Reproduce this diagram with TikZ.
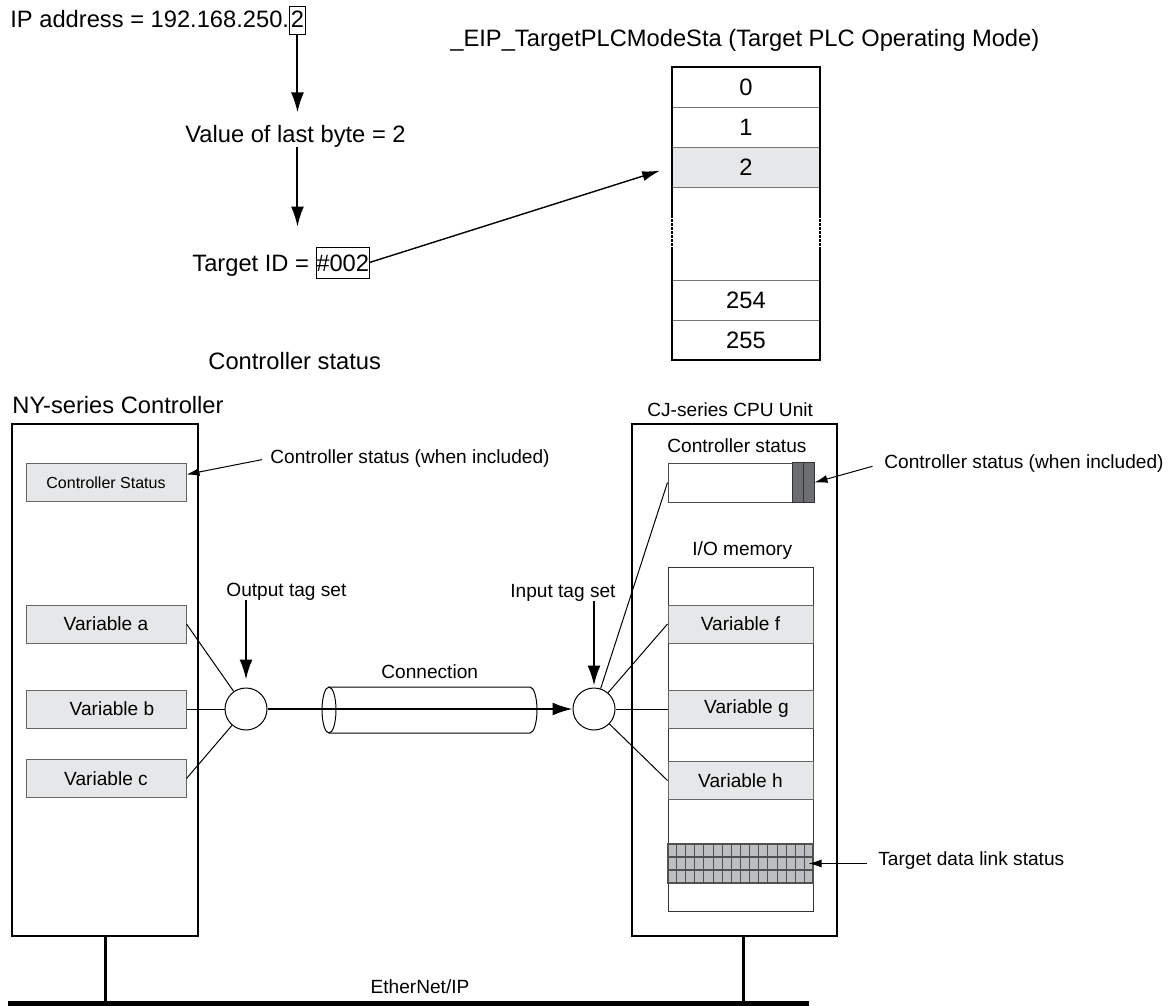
\documentclass[tikz,border=0pt]{standalone}
\usepackage{fontspec}
\setmainfont{Liberation Sans}
\usepackage{tikz}
\usetikzlibrary{positioning, arrows.meta, calc}
\definecolor{cellgray}{RGB}{230,231,232}
\definecolor{markgray}{RGB}{109,110,113}
\definecolor{linkgray}{RGB}{188,190,192}
\definecolor{rulegray}{RGB}{80,81,83}

\begin{document}
\begin{tikzpicture}[
  x=0.5pt, y=-0.5pt,
  big/.style={inner sep=0pt, font=\fontsize{11.85}{14}\selectfont},
  mid/.style={inner sep=0pt, font=\fontsize{9.55}{11.5}\selectfont},
  cell/.style={rectangle, draw=black!55, line width=0.4pt, minimum width=74pt, minimum height=20pt, inner sep=0pt, font=\fontsize{11.85}{14}\selectfont},
  frame/.style={line width=1pt},
  unit/.style={rectangle, draw, line width=1.3pt, inner sep=0pt},
  varbox/.style={rectangle, draw=black!60, fill=cellgray, line width=0.5pt, minimum width=80pt, minimum height=19pt, inner sep=0pt, font=\fontsize{9.55}{11.5}\selectfont},
  tagset/.style={circle, draw, line width=0.5pt, minimum size=21pt, inner sep=0pt},
  bigarrow/.style={-{Latex[length=10pt,width=6.5pt]}, line width=1pt},
  note/.style={-{Latex[length=6.5pt,width=4pt]}, line width=0.5pt},
  wire/.style={line width=0.5pt},
]
\useasboundingbox (0,0) rectangle (1173,1006);

\node[big, anchor=base west] (ip) at (10,28) {IP address = 192.168.250.};
\node[big, draw, line width=0.4pt, inner xsep=0.5pt, text height=11pt, text depth=3pt, anchor=base west] (ipbyte) at (ip.base east) {2};
\node[big, anchor=base west] (lastbyte) at (185,142) {Value of last byte = 2};
\node[big, anchor=base west] (tid) at (192,271) {Target ID =\ \null};
\node[big, draw, line width=0.4pt, inner xsep=0pt, text height=12pt, text depth=3.5pt, anchor=base west] (tidbox) at (tid.base east) {\#002};

\draw[bigarrow, shorten >=6pt] (ipbyte.south) -- (ipbyte.south |- lastbyte.north);
\draw[bigarrow, shorten >=10pt] (ipbyte.south |- lastbyte.south) -- (ipbyte.south |- tidbox.north);

\node[big, anchor=base west] (modesta) at (450,47) {\_EIP\_TargetPLCModeSta (Target PLC Operating Mode)};
\foreach \t/\y/\f in {0/87/white, 1/127/white, 2/167/cellgray, 254/300/white, 255/340/white}
  \node[cell, fill=\f] (r\t) at (746,\y) {\t};
\draw[frame] ([yshift=-14pt]r2.south west) |- (r0.north east) -- ([yshift=-14pt]r2.south east);
\draw[frame] ([yshift=15pt]r254.north west) |- (r255.south east) -- ([yshift=15pt]r254.north east);
\foreach \s in {west,east}
  \draw[frame, dash pattern=on 1.2pt off 0.8pt] ([yshift=-14pt]r2.south \s) -- ([yshift=15pt]r254.north \s);
\draw[-{Latex[length=9pt,width=5pt]}, line width=0.7pt, shorten >=6pt] (tidbox.east) -- (r2.west);

\node[big, anchor=base west] (ctrlstat) at (208,369) {Controller status};

\node[big, anchor=base west] (nylabel) at (12,413) {NY-series Controller};
\node[unit, minimum width=93pt, minimum height=256pt] (ny) at (105,680) {};
\node[varbox, font=\fontsize{8}{10}\selectfont] (nystat) at (106,482.5) {Controller Status};
\node[varbox] (vara) at (106,624) {Variable a};
\node[varbox] (varb) at (106,709) {\hspace*{6pt}Variable b};
\node[varbox] (varc) at (106,778.5) {Variable c};
\node[mid, anchor=base west] (nynote) at (270,463) {Controller status (when included)};
\draw[note, shorten <=4pt] (nynote.west) -- ([yshift=4pt]nystat.east);

\node[mid, anchor=base west] (outlabel) at (226,596) {Output tag set};
\node[tagset] (outset) at (246,709) {};
\draw[bigarrow, shorten >=4pt] (outlabel.south -| outset.north) -- (outset.north);
\foreach \v in {vara,varb,varc}
  \draw[wire] (\v.east) -- (outset);

\draw[wire] (329,687) -- (530,687) arc[start angle=90, end angle=-90, x radius=3.5pt, y radius=11.5pt] -- (329,733);
\draw[wire] (329,710) ellipse [x radius=3.5pt, y radius=11.5pt];
\node[mid, anchor=base west] (connlabel) at (381,678) {Connection};

\node[mid, anchor=base west] (inlabel) at (510,597) {Input tag set};
\node[tagset] (inset) at (594,709) {};
\draw[bigarrow, shorten >=1pt] (inlabel.south -| inset.north) -- (inset.north);
\draw[bigarrow, line width=1pt] (outset) -- (inset);

\node[mid, anchor=base west] (cjlabel) at (647,416) {CJ-series CPU Unit};
\node[unit, minimum width=102.5pt, minimum height=256pt] (cj) at (734.5,680) {};
\node[mid, anchor=base west] (cjstatlabel) at (667,452) {Controller status};
\node[rectangle, draw=black!70, line width=0.5pt, minimum width=73pt, minimum height=19.5pt, inner sep=0pt] (cjstat) at (741,482.5) {};
\draw[draw=black!80, fill=markgray, line width=0.5pt] ([xshift=-11pt]cjstat.north east) rectangle (cjstat.south east);
\draw[black!80, line width=0.5pt] ([xshift=-5.5pt]cjstat.north east) -- ([xshift=-5.5pt]cjstat.south east);
\node[mid, anchor=base west] (cjnote) at (884,468) {Controller status (when included)};
\draw[note, shorten <=6pt] (cjnote.west) -- (cjstat.east);
\draw[wire] (inset) -- (cjstat.west);

\node[mid, anchor=base west] (memlabel) at (692,555) {I/O memory};
\node[rectangle, draw=black!80, line width=0.5pt, minimum width=72.5pt, minimum height=172pt, inner sep=0pt] (mem) at (740.5,739) {};
\node[varbox, minimum width=72.5pt] (varf) at (740.5,624) {Variable f};
\node[varbox, minimum width=72.5pt] (varg) at (740.5,709) {\hspace*{6pt}Variable g};
\node[varbox, minimum width=72.5pt] (varh) at (740.5,780.5) {Variable h};
\foreach \v in {varf,varg,varh}
  \draw[wire] (inset) -- (\v.west);

\node[rectangle, fill=linkgray, draw=rulegray, line width=0.6pt, minimum width=72.5pt, minimum height=19.5pt, inner sep=0pt] (linkstat) at (740.5,863.5) {};
\foreach \c in {1,...,15}
  \draw[rulegray, line width=0.5pt] ($(linkstat.north west)!\c/16!(linkstat.north east)$) -- ($(linkstat.south west)!\c/16!(linkstat.south east)$);
\foreach \r in {1,2}
  \draw[rulegray, line width=0.8pt] ($(linkstat.north west)!\r/3!(linkstat.south west)$) -- ($(linkstat.north east)!\r/3!(linkstat.south east)$);
\node[mid, anchor=base west] (linklabel) at (878,865) {Target data link status};
\draw[note, shorten <=5.5pt, shorten >=-2.5pt] (linklabel.west |- linkstat.east) -- (linkstat.east);

\coordinate (busL) at (8,1003.5);
\coordinate (busR) at (809,1003.5);
\draw[line width=3pt] (busL) -- (busR);
\draw[line width=1.5pt] (ny.south) -- (ny.south |- busL);
\draw[line width=1.5pt] ([xshift=4.5pt]cj.south) -- ([xshift=4.5pt]cj.south |- busL);
\node[mid, anchor=base] (bus) at (420,993) {EtherNet/IP};
\end{tikzpicture}
\end{document}
